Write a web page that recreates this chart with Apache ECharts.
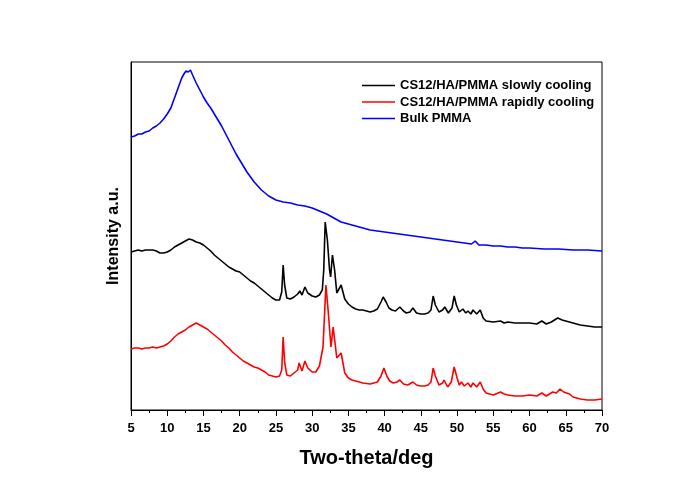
<!DOCTYPE html>
<html>
<head>
<meta charset="utf-8">
<script src="https://cdn.jsdelivr.net/npm/echarts@6/dist/echarts.min.js"></script>
<style>
  html, body { margin: 0; padding: 0; background: #fff; }
  #chart { width: 684px; height: 483px; }
</style>
</head>
<body>
<div id="chart"></div>
<script>
// [two-theta (deg), intensity (a.u., offset stacked)]
const slowCooling = [
  [5,158],[5.5,159],[6,160],[6.5,159],[7,160],[7.5,160],[8,160],[8.5,159],[9,157],[9.5,157],
  [10,158],[10.5,160],[11,163],[11.5,165],[12,167],[12.5,169],[13,171],[13.5,170],[14,168],[14.5,167],
  [15,165],[15.5,162],[16,159],[16.5,155],[17,152],[17.5,149],[18,146],[18.5,143],[19,141],[19.5,139],
  [20,138],[20.5,135],[21,132],[21.5,129],[22,127],[22.5,124],[23,121],[23.5,118],[24,115],[24.5,112],
  [25,110],[25.5,110],[25.8,118],[26,145],[26.2,125],[26.5,112],[27,111],[27.5,113],[28,116],[28.3,119],
  [28.6,115],[29,123],[29.4,117],[30,114],[30.5,113],[31,115],[31.4,120],[31.6,140],[31.8,188],[32.1,170],
  [32.4,140],[32.55,133],[32.8,155],[33.1,140],[33.4,117],[34,125],[34.5,111],[35,106],[35.5,103],[36,101],
  [36.5,100],[37,100],[38,98],[38.5,99],[39,101],[39.5,108],[39.8,113],[40.2,108],[40.6,102],[41,100],
  [41.5,99],[42.1,103],[42.6,99],[43,97],[43.5,98],[43.9,102],[44.4,97],[45,96],[45.5,96],[46,97],
  [46.4,100],[46.7,114],[47,105],[47.5,98],[48,100],[48.3,103],[48.8,97],[49.3,102],[49.6,114],[49.9,105],
  [50.3,98],[50.8,101],[51.2,97],[51.5,99],[51.9,96],[52.2,100],[52.7,96],[53.2,100],[53.6,92],[54,89],
  [55,88],[56,89],[56.5,87],[57,88],[58,87],[59,87],[60,87],[61,86],[61.7,89],[62.3,86],
  [63,88],[63.9,92],[64.5,90],[65,89],[66,87],[67,85],[68,84],[69,83],[70,83]
];

const rapidCooling = [
  [5,61],[5.5,62],[6,62],[6.5,61],[7,62],[7.5,62],[8,63],[8.5,62],[9,63],[9.5,64],
  [10,66],[10.5,69],[11,73],[11.5,76],[12,78],[12.5,80],[13,83],[13.5,85],[14,87],[14.5,85],
  [15,83],[15.5,81],[16,78],[16.5,75],[17,72],[17.5,69],[18,65],[18.5,62],[19,58],[19.5,55],
  [20,52],[20.5,49],[21,47],[21.5,45],[22,43],[22.5,42],[23,40],[23.5,38],[24,35],[24.5,34],
  [25,33],[25.5,34],[25.8,40],[26,73],[26.2,48],[26.5,35],[27,34],[27.5,37],[28,40],[28.2,47],
  [28.6,39],[29,49],[29.4,42],[30,38],[30.5,38],[31,44],[31.5,63],[31.9,125],[32.2,100],[32.6,63],
  [32.9,83],[33.4,52],[34,57],[34.5,37],[35,32],[35.5,30],[36,29],[37,27],[38,26],[38.5,27],
  [39,28],[39.5,34],[39.9,42],[40.3,34],[40.7,29],[41.2,27],[41.7,28],[42.1,30],[42.6,26],[43.2,25],
  [43.9,28],[44.4,25],[45,24],[45.5,24],[46,25],[46.4,28],[46.7,42],[47,34],[47.5,25],[48,27],
  [48.2,30],[48.7,23],[49.2,28],[49.6,43],[50,32],[50.3,25],[50.6,28],[51,24],[51.5,27],[51.9,23],
  [52.2,27],[52.7,23],[53.2,28],[53.6,21],[54,17],[55,15],[56,18],[56.5,16],[57,15],[58,14],
  [59,14],[60,15],[61,14],[61.7,17],[62.3,14],[63.2,18],[63.7,17],[64.2,21],[64.7,18],[65.5,16],
  [66,13],[67,11],[68,10],[69,10],[70,11]
];

const bulkPmma = [
  [5,273],[5.5,274],[6,276],[6.5,276],[7,278],[7.5,279],[8,282],[8.5,284],[9,287],[9.5,291],
  [10,296],[10.5,302],[11,312],[11.5,322],[12,332],[12.3,336],[12.6,339],[12.9,338],[13.2,340],[13.5,335],
  [14,327],[14.5,320],[15,313],[15.5,307],[16,302],[16.5,296],[17,290],[17.5,284],[18,277],[18.5,270],
  [19,263],[19.5,256],[20,250],[20.5,244],[21,238],[21.5,233],[22,228],[22.5,224],[23,220],[23.5,217],
  [24,214],[24.5,212],[25,210],[25.5,209],[26,208],[27,207],[28,205],[29,204],[30,202],[31,199],
  [32,196],[33,192],[34,188],[35,186],[36,184],[37,182],[38,180],[39,179],[40,178],[41,177],
  [42,176],[43,175],[44,174],[45,173],[46,172],[47,171],[48,170],[49,169],[50,168],[51,167],
  [52,166],[52.5,169],[53,165],[54,165],[55,164],[56,164],[57,163],[58,163],[59,162],[60,162],
  [62,161],[64,161],[66,160],[68,160],[70,159]
];

const seriesNames = [
  "CS12/HA/PMMA slowly cooling",
  "CS12/HA/PMMA rapidly cooling",
  "Bulk PMMA"
];
const seriesColors = ["#000000", "#ff0000", "#0000ff"];
const seriesData = [slowCooling, rapidCooling, bulkPmma];

const chart = echarts.init(document.getElementById("chart"));

const option = {
  animation: false,
  backgroundColor: "#ffffff",
  textStyle: { fontFamily: "Liberation Sans, Arial, sans-serif" },
  grid: {
    left: 131,
    right: 82,
    top: 62,
    bottom: 73,
    show: true,
    borderColor: "#000",
    borderWidth: 1
  },
  legend: {
    orient: "vertical",
    left: 357,
    top: 74,
    itemWidth: 33,
    itemHeight: 1.5,
    itemGap: 3.5,
    icon: "rect",
    data: seriesNames,
    textStyle: {
      color: "#000",
      fontWeight: "bold",
      fontSize: 13,
      fontFamily: "Liberation Sans, Arial, sans-serif"
    }
  },
  xAxis: {
    type: "value",
    min: 5,
    max: 70,
    interval: 5,
    name: "Two-theta/deg",
    nameLocation: "middle",
    nameGap: 38,
    nameTextStyle: {
      color: "#000",
      fontWeight: "bold",
      fontSize: 20,
      fontFamily: "Liberation Sans, Arial, sans-serif"
    },
    axisLine: { show: true, lineStyle: { color: "#000", width: 1 } },
    axisTick: { show: true, inside: false, length: 6, lineStyle: { color: "#000" } },
    minorTick: { show: true, splitNumber: 2, length: 3, lineStyle: { color: "#000" } },
    axisLabel: {
      color: "#000",
      fontWeight: "bold",
      fontSize: 13,
      margin: 12,
      fontFamily: "Liberation Sans, Arial, sans-serif"
    },
    splitLine: { show: false }
  },
  yAxis: {
    type: "value",
    min: 0,
    max: 348,
    name: "Intensity a.u.",
    nameLocation: "middle",
    nameGap: 9,
    nameTextStyle: {
      color: "#000",
      fontWeight: "bold",
      fontSize: 16,
      fontFamily: "Liberation Sans, Arial, sans-serif"
    },
    axisLine: { show: true, lineStyle: { color: "#000", width: 1 } },
    axisTick: { show: false },
    axisLabel: { show: false },
    splitLine: { show: false }
  },
  series: seriesNames.map((name, i) => ({
    name: name,
    type: "line",
    data: seriesData[i],
    showSymbol: false,
    symbol: "none",
    color: seriesColors[i],
    lineStyle: { color: seriesColors[i], width: 1.6 }
  }))
};

chart.setOption(option);
</script>
</body>
</html>
